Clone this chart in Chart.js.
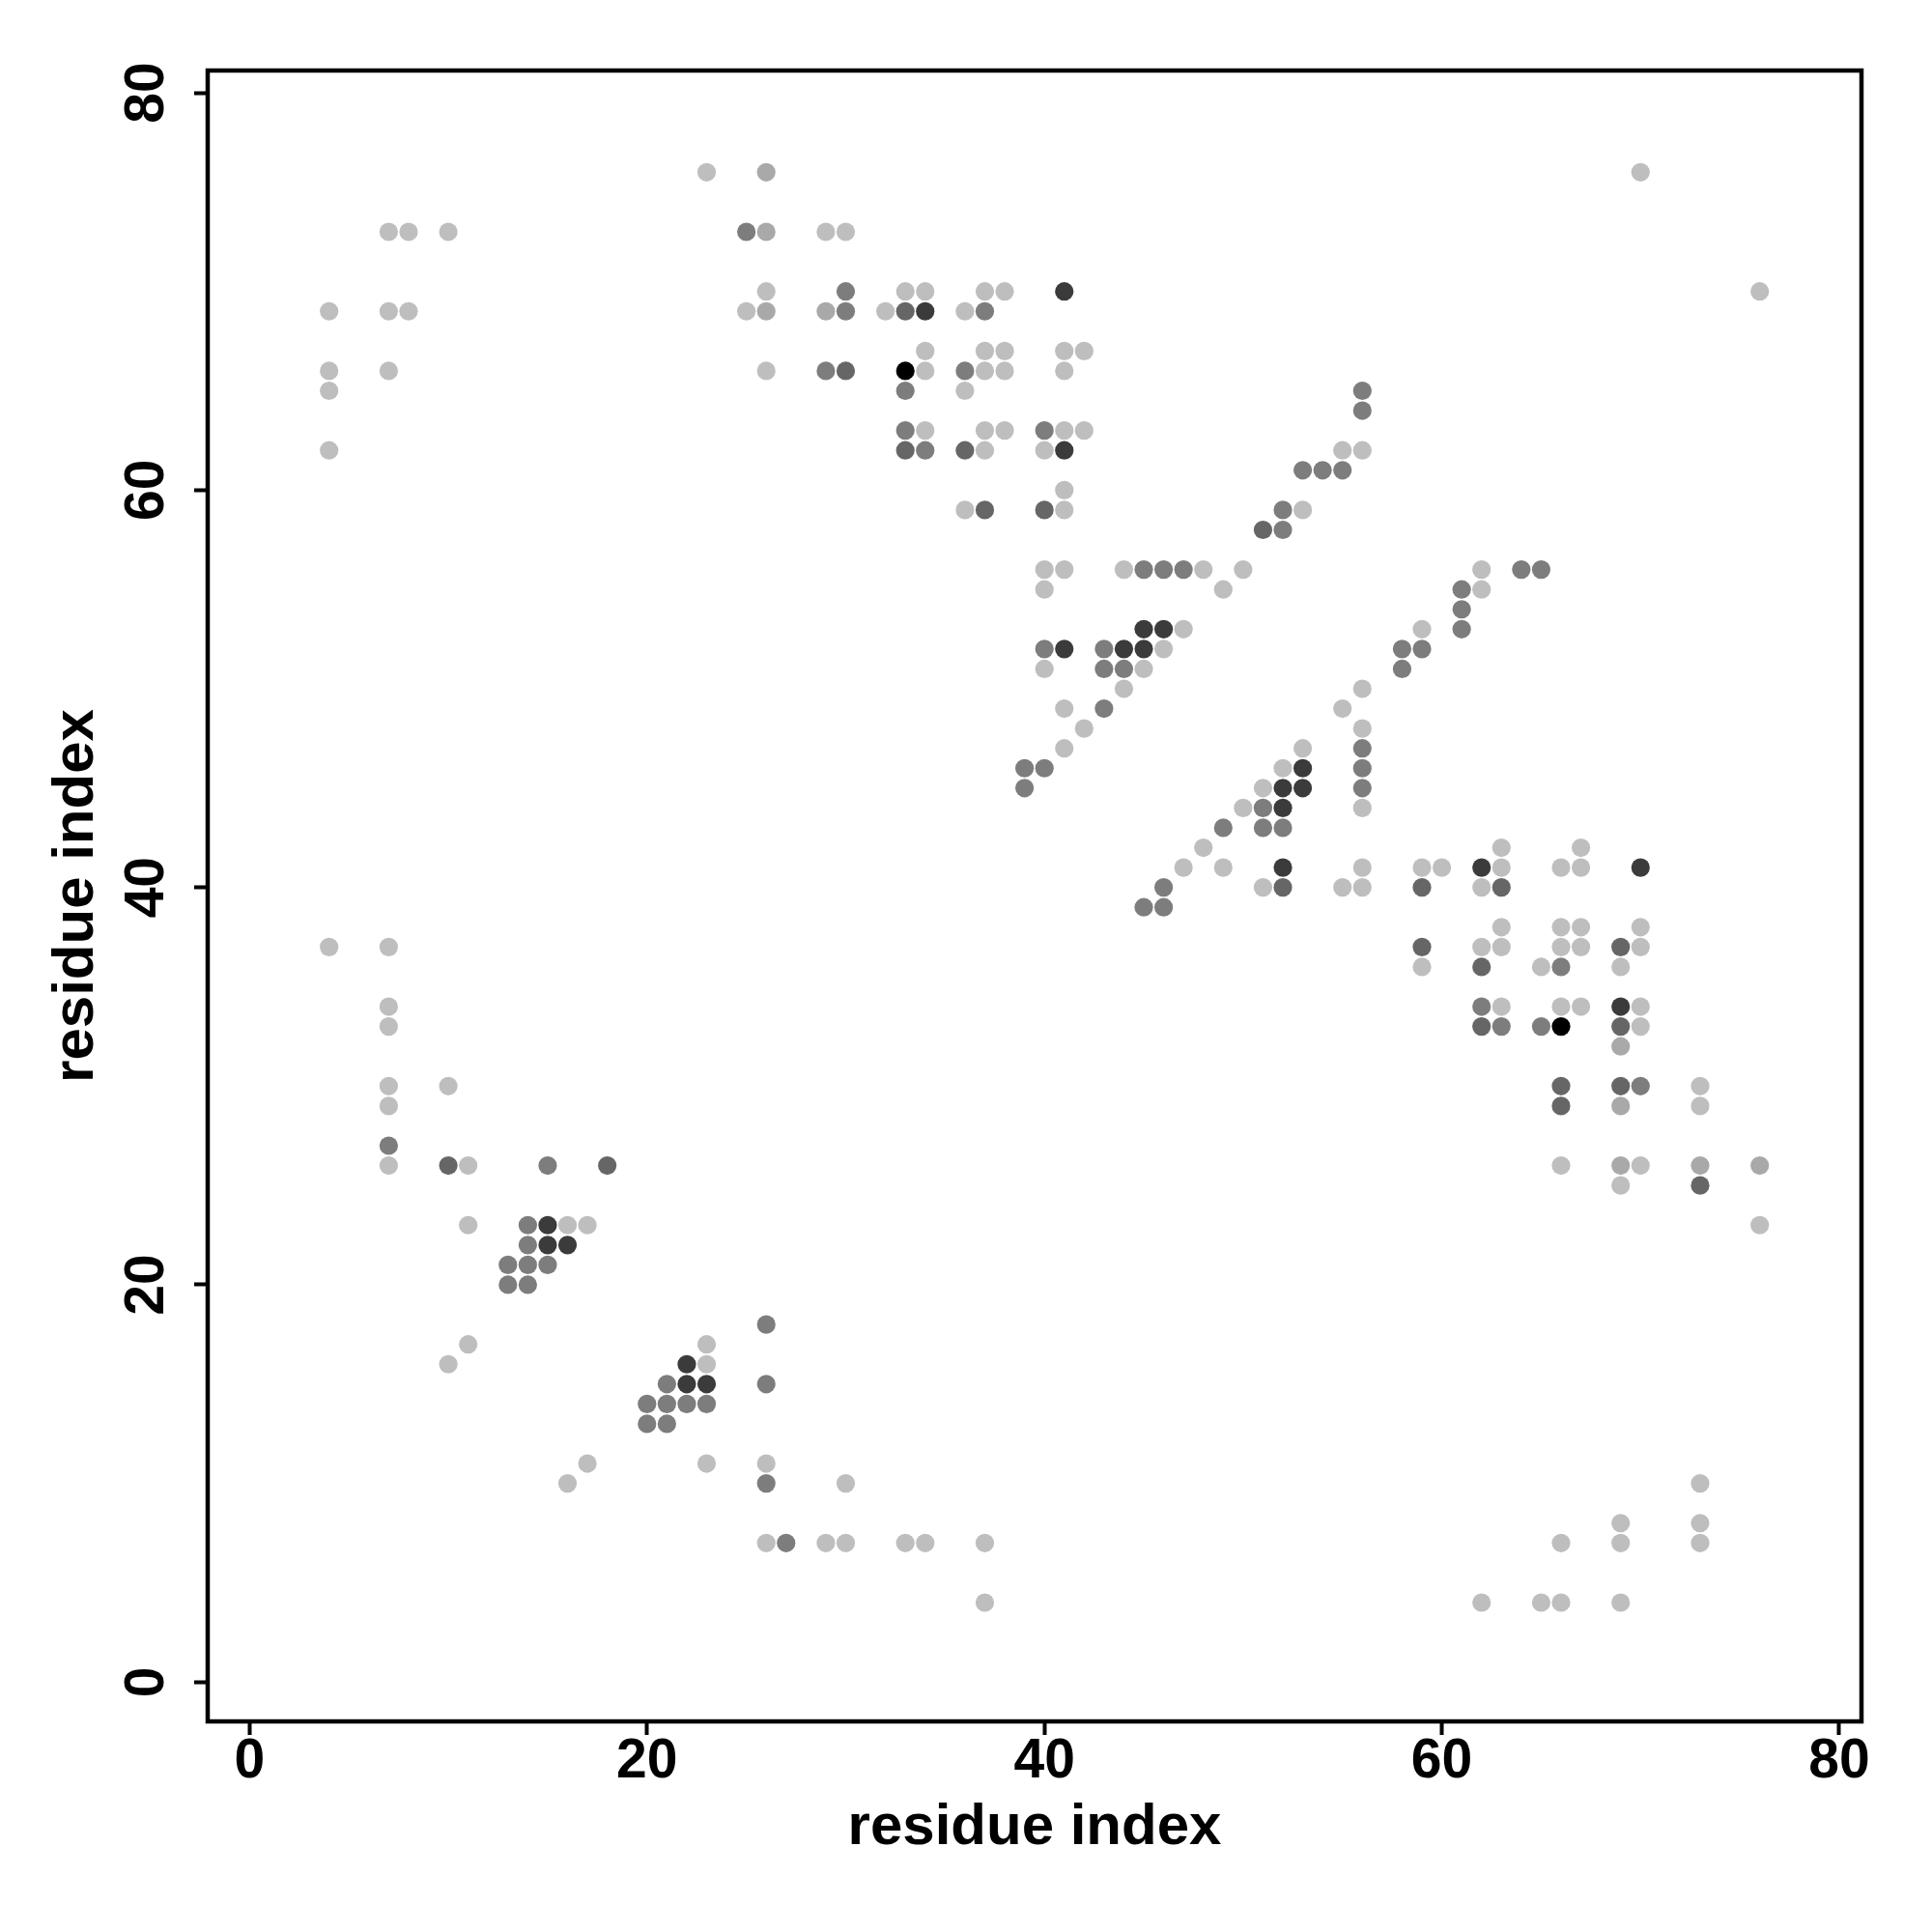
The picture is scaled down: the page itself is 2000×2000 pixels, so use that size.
<!DOCTYPE html>
<html>
<head>
<meta charset="utf-8">
<script src="https://cdn.jsdelivr.net/npm/chart.js@4"></script>
<style>
  body { margin: 0; background: #fff; }
  #wrap { width: 2000px; height: 2000px; }
</style>
</head>
<body>
<div id="wrap"><canvas id="contactMap" width="2000" height="2000"></canvas></div>
<script>
// contact map, one list of [i, j] per grey level
const lightPts = [
  [23,76],[70,76],
  [7,73],[8,73],[10,73],[29,73],[30,73],
  [26,70],[33,70],[34,70],[37,70],[38,70],[76,70],
  [4,69],[7,69],[8,69],[25,69],[32,69],[36,69],
  [34,67],[37,67],[38,67],[41,67],[42,67],
  [4,66],[7,66],[26,66],[34,66],[37,66],[38,66],[41,66],
  [4,65],[36,65],
  [34,63],[37,63],[38,63],[41,63],[42,63],
  [4,62],[37,62],[40,62],[55,62],[56,62],
  [41,60],
  [36,59],[41,59],[53,59],
  [40,56],[41,56],[44,56],[48,56],[50,56],[62,56],
  [40,55],[49,55],[62,55],
  [47,53],[59,53],
  [46,52],
  [40,51],[45,51],
  [44,50],[56,50],
  [41,49],[55,49],
  [42,48],[56,48],
  [41,47],[53,47],
  [52,46],
  [51,45],
  [50,44],[56,44],
  [48,42],[63,42],[67,42],
  [47,41],[49,41],[56,41],[59,41],[60,41],[63,41],[66,41],[67,41],
  [51,40],[55,40],[56,40],[62,40],
  [63,38],[66,38],[67,38],[70,38],
  [4,37],[7,37],[62,37],[63,37],[66,37],[67,37],[70,37],
  [59,36],[65,36],[69,36],
  [7,34],[63,34],[66,34],[67,34],[70,34],
  [7,33],[70,33],
  [7,30],[10,30],[73,30],
  [7,29],[73,29],
  [7,26],[11,26],[66,26],[70,26],
  [69,25],
  [11,23],[16,23],[17,23],[76,23],
  [11,17],[23,17],
  [10,16],[23,16],
  [17,11],[23,11],[26,11],
  [16,10],[30,10],[73,10],
  [69,8],[73,8],
  [26,7],[29,7],[30,7],[33,7],[34,7],[37,7],[66,7],[69,7],[73,7],
  [37,4],[62,4],[65,4],[66,4],[69,4]
];
const palePts = [
  [26,76],[26,73],[26,69],[29,69],[69,32],[69,29],[69,26],[76,26],[73,26]
];
const midPts = [
  [25,73],[30,70],[30,69],[37,69],[29,66],[36,66],[33,65],[33,63],[40,63],[34,62],
  [53,61],[54,61],[55,61],[56,65],[56,64],[52,59],[52,58],
  [45,56],[46,56],[47,56],[64,56],[65,56],[61,55],[61,54],[61,53],
  [40,52],[43,52],[58,52],[59,52],[43,51],[44,51],[58,51],[43,49],
  [56,47],[39,46],[40,46],[56,46],[39,45],[56,45],[51,44],[49,43],[51,43],[52,43],
  [46,40],[45,39],[46,39],[66,36],[62,34],[63,33],[65,33],[70,30],
  [7,27],[15,26],[14,23],[14,22],[13,21],[14,21],[15,21],[13,20],[14,20],
  [26,18],[21,15],[26,15],[20,14],[21,14],[22,14],[23,14],[20,13],[21,13],
  [26,10],[27,7]
];
const darkMidPts = [
  [33,69],[30,66],[33,62],[36,62],[37,59],[40,59],[51,58],
  [52,40],[59,40],[63,40],[59,37],[69,37],[62,36],[62,33],[69,33],
  [66,30],[69,30],[66,29],[73,25],[10,26],[18,26]
];
const darkPts = [
  [41,70],[34,69],[41,62],[45,53],[46,53],[41,52],[44,52],[45,52],
  [53,46],[52,45],[53,45],[52,44],[52,41],[62,41],[70,41],[69,34],
  [15,23],[15,22],[16,22],[22,16],[22,15],[23,15]
];
const blackPts = [[33,66],[66,33]];

const xTicks = [0, 20, 40, 60, 80];
const yTicks = [0, 20, 40, 60, 80];
const axisTitle = 'residue index';

const levels = [
  { pts: lightPts, color: '#bebebe' },
  { pts: palePts, color: '#a9a9a9' },
  { pts: midPts, color: '#7d7d7d' },
  { pts: darkMidPts, color: '#666666' },
  { pts: darkPts, color: '#3b3b3b' },
  { pts: blackPts, color: '#000000' }
];

const tickFont = { family: 'Liberation Sans', weight: 'bold', size: 57, lineHeight: 1 };
const titleFont = { family: 'Liberation Sans', weight: 'bold', size: 60, lineHeight: 1.2 };

const boxPlugin = {
  id: 'box',
  afterDraw(chart) {
    const { ctx, chartArea: a } = chart;
    ctx.save();
    ctx.strokeStyle = '#000';
    ctx.lineWidth = 4.5;
    ctx.strokeRect(a.left, a.top, a.right - a.left, a.bottom - a.top);
    ctx.restore();
  }
};

const ctx = document.getElementById('contactMap').getContext('2d');
new Chart(ctx, {
  type: 'scatter',
  data: {
    datasets: levels.map(l => ({
      data: l.pts.map(p => ({ x: p[0], y: p[1] })),
      backgroundColor: l.color,
      borderWidth: 0,
      pointRadius: 9.6,
      pointHoverRadius: 9.6
    }))
  },
  options: {
    responsive: false,
    animation: false,
    events: [],
    layout: { padding: { top: 73, right: 73, left: 0, bottom: 0 } },
    plugins: { legend: { display: false }, tooltip: { enabled: false } },
    scales: {
      x: {
        type: 'linear',
        position: 'bottom',
        min: -2.11,
        max: 81.12,
        afterBuildTicks: s => { s.ticks = xTicks.map(v => ({ value: v })); },
        afterFit: s => { s.height = 218; },
        border: { display: false },
        grid: { drawOnChartArea: false, drawTicks: true, tickLength: 14, tickWidth: 4, tickColor: '#000' },
        ticks: { font: tickFont, color: '#000', padding: 0, minRotation: 0, maxRotation: 0 },
        title: { display: true, text: axisTitle, color: '#000', font: titleFont, padding: { top: 0, bottom: 72 } }
      },
      y: {
        type: 'linear',
        position: 'left',
        min: -1.98,
        max: 81.12,
        afterBuildTicks: s => { s.ticks = yTicks.map(v => ({ value: v })); },
        afterFit: s => { s.width = 215; },
        border: { display: false },
        grid: { drawOnChartArea: false, drawTicks: true, tickLength: 14, tickWidth: 4, tickColor: '#000' },
        ticks: { font: tickFont, color: '#000', padding: 16, minRotation: 90, maxRotation: 90, crossAlign: 'center' },
        title: { display: true, text: axisTitle, color: '#000', font: titleFont, padding: { top: 43, bottom: 0 } }
      }
    }
  },
  plugins: [boxPlugin]
});
</script>
</body>
</html>
